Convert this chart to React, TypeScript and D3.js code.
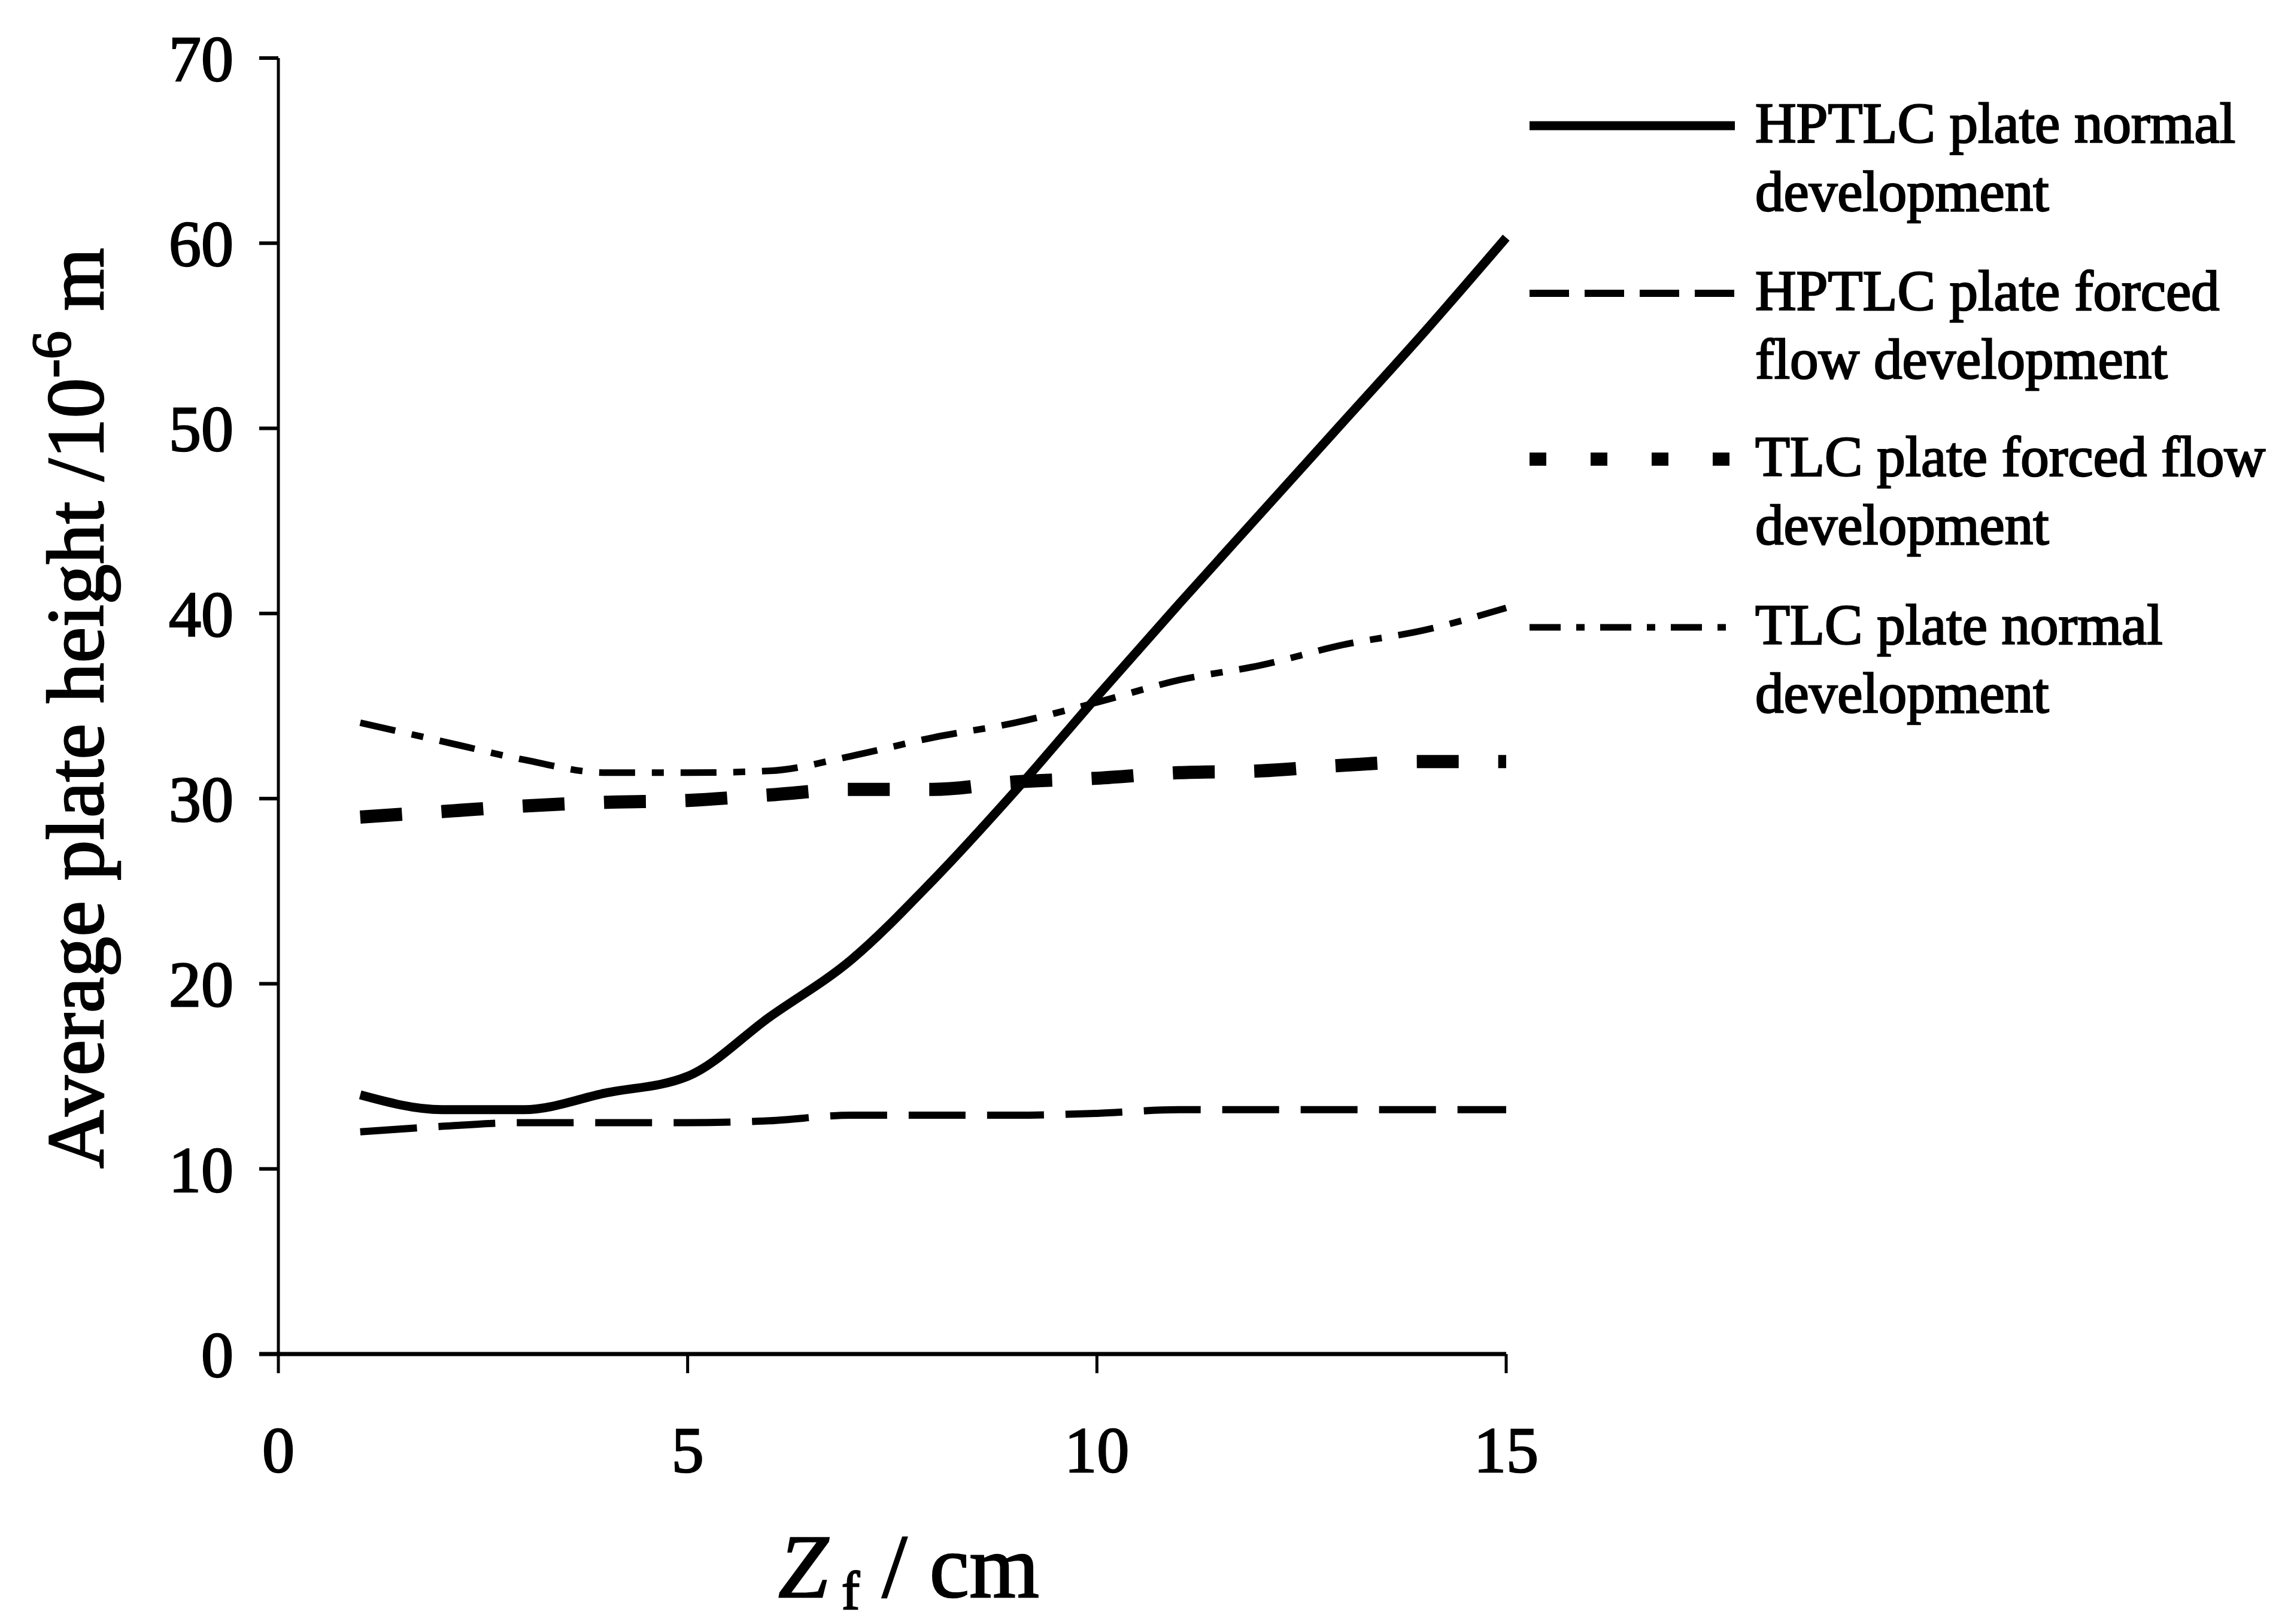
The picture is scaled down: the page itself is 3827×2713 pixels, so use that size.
import React from 'react';
import * as d3 from 'd3';

const zf = [1, 2, 3, 4, 5, 6, 7, 8, 9, 10, 11, 12, 13, 14, 15];
const hptlcNormal = [14.0, 13.2, 13.2, 14.1, 15.0, 18.2, 21.3, 25.6, 30.4, 35.5, 40.5, 45.4, 50.3, 55.2, 60.3];
const hptlcForced = [12.0, 12.3, 12.5, 12.5, 12.5, 12.6, 12.9, 12.9, 12.9, 13.0, 13.2, 13.2, 13.2, 13.2, 13.2];
const tlcForced = [29.0, 29.3, 29.6, 29.8, 29.9, 30.2, 30.5, 30.5, 30.9, 31.1, 31.4, 31.5, 31.8, 32.0, 32.0];
const tlcNormal = [34.1, 33.1, 32.1, 31.4, 31.4, 31.5, 32.3, 33.3, 34.1, 35.2, 36.4, 37.2, 38.3, 39.1, 40.3];

const xTicks = [0, 5, 10, 15];
const yTicks = [0, 10, 20, 30, 40, 50, 60, 70];

const seriesNames = [
  ['HPTLC plate normal', 'development'],
  ['HPTLC plate forced', 'flow development'],
  ['TLC plate forced flow', 'development'],
  ['TLC plate normal', 'development'],
];
const seriesValues = [hptlcNormal, hptlcForced, tlcForced, tlcNormal];

const FONT = '"Liberation Serif", "Times New Roman", serif';

export default function App() {
  const W = 3827;
  const H = 2713;
  const x = d3.scaleLinear().domain([0, 15]).range([465, 2516]);
  const y = d3.scaleLinear().domain([0, 70]).range([2262, 97]);

  const styles = [
    { w: 15, dash: 'none', legendDash: 'none' },
    { w: 12, dash: '95 36', legendDash: '66 26' },
    { w: 22, dash: '70 66', legendDash: '28 74' },
    { w: 11, dash: '60 28 20 28', legendDash: '52 26 14 26' },
  ];

  const lineGen = d3
    .line<number>()
    .x((_, i) => x(zf[i]))
    .y((d) => y(d))
    .curve(d3.curveMonotoneX);

  const legendX0 = 2555;
  const legendX1 = 2898;
  const legendTextX = 2932;
  const legendBase = [238, 518, 795, 1076];
  const legendLineGap = 114;

  const drawOrder = [1, 2, 3, 0];
  const textStroke = { stroke: '#000', strokeWidth: 2.5 };

  return (
    <div style={{ position: 'absolute', left: 0, top: 0 }}>
      <svg width={W} height={H} viewBox={`0 0 ${W} ${H}`} style={{ display: 'block', background: '#fff' }}>
        <rect x={0} y={0} width={W} height={H} fill="#fff" />
        {/* axes */}
        <line x1={x(0)} x2={x(0)} y1={y(0)} y2={y(70)} stroke="#000" strokeWidth={5} />
        <line x1={x(0) - 32} x2={x(15)} y1={y(0)} y2={y(0)} stroke="#000" strokeWidth={7} />
        {yTicks.map((t) => (
          <g key={'y' + t}>
            <line x1={x(0) - 32} x2={x(0)} y1={y(t)} y2={y(t)} stroke="#000" strokeWidth={6} />
            <text
              x={390}
              y={y(t)}
              dy="0.35em"
              textAnchor="end"
              fontFamily={FONT}
              fontSize={108}
              fill="#000"
              {...textStroke}
            >
              {t}
            </text>
          </g>
        ))}
        {xTicks.map((t) => (
          <g key={'x' + t}>
            <line x1={x(t)} x2={x(t)} y1={y(0)} y2={y(0) + 32} stroke="#000" strokeWidth={5} />
            <text
              x={x(t)}
              y={2459}
              textAnchor="middle"
              fontFamily={FONT}
              fontSize={108}
              fill="#000"
              {...textStroke}
            >
              {t}
            </text>
          </g>
        ))}
        {/* series */}
        {drawOrder.map((si) => (
          <path
            key={'s' + si}
            d={lineGen(seriesValues[si]) || ''}
            fill="none"
            stroke="#000"
            strokeWidth={styles[si].w}
            strokeDasharray={styles[si].dash}
            strokeLinejoin="round"
          />
        ))}
        {/* legend */}
        {seriesNames.map((names, i) => (
          <g key={'l' + i}>
            <line
              x1={legendX0}
              x2={legendX1}
              y1={legendBase[i] - 28}
              y2={legendBase[i] - 28}
              stroke="#000"
              strokeWidth={styles[i].w}
              strokeDasharray={styles[i].legendDash}
            />
            {names.map((n, j) => (
              <text
                key={j}
                x={legendTextX}
                y={legendBase[i] + j * legendLineGap}
                fontFamily={FONT}
                fontSize={95}
                fill="#000"
                {...textStroke}
              >
                {n}
              </text>
            ))}
          </g>
        ))}
        {/* y axis title */}
        <text
          transform="translate(172,1952) rotate(-90)"
          fontFamily={FONT}
          fontSize={135}
          fill="#000"
          {...textStroke}
        >
          <tspan>Average plate height /10</tspan>
          <tspan fontSize={94} dy={-55}>-6</tspan>
          <tspan dy={55}> m</tspan>
        </text>
        {/* x axis title */}
        <text x={1300} y={2668} fontFamily={FONT} fontSize={150} fill="#000" {...textStroke}>
          <tspan fontStyle="italic">Z</tspan>
          <tspan fontSize={90} dy={20}> f</tspan>
          <tspan dy={-20}> / cm</tspan>
        </text>
      </svg>
    </div>
  );
}
